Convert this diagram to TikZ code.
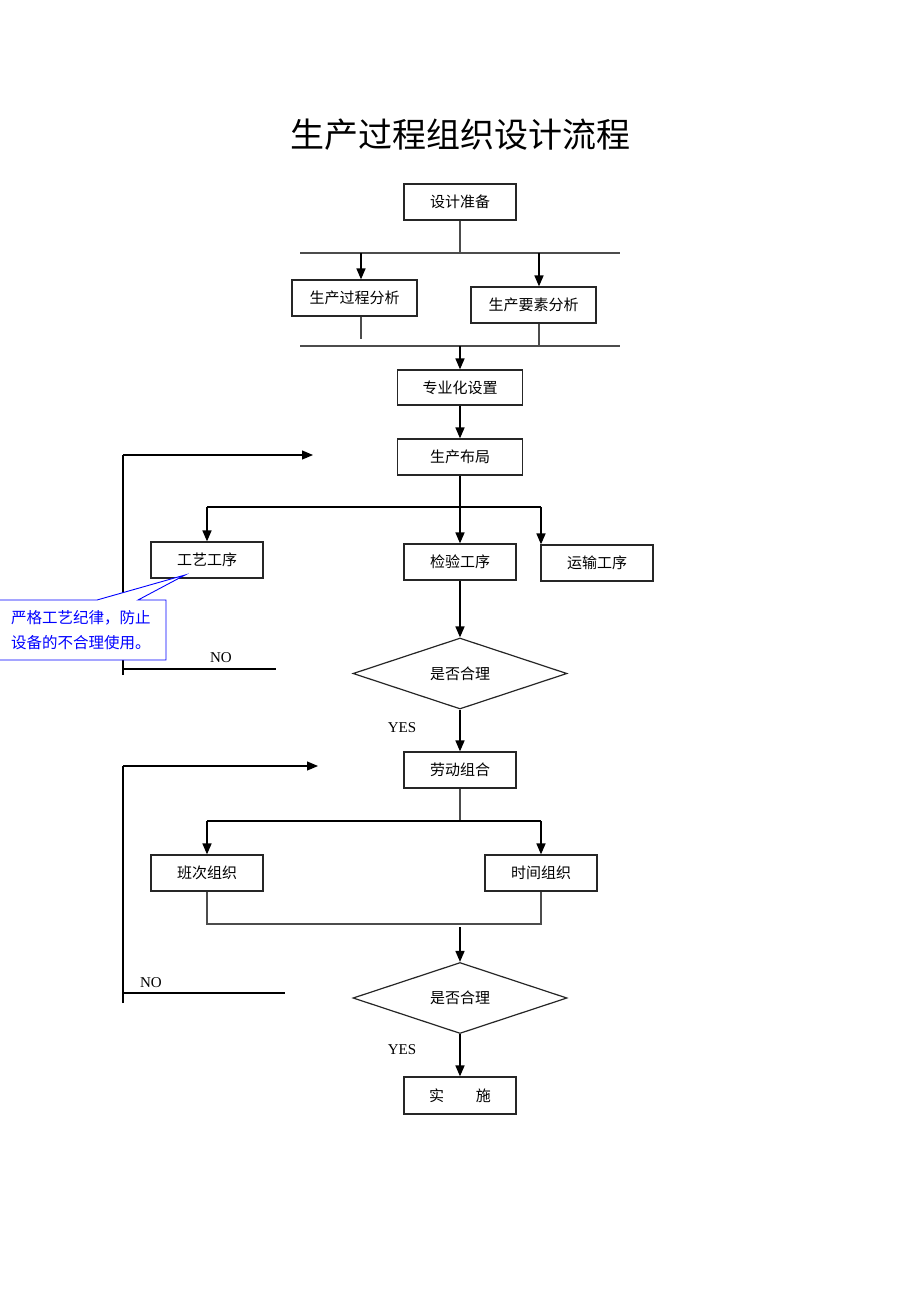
\documentclass[tikz,border=0pt]{standalone}
\usepackage{fontspec}
\setmainfont{Liberation Serif}
\newfontfamily\cjk{Noto Sans CJK SC}
\usetikzlibrary{arrows.meta,shapes.geometric}
\begin{document}
\begin{tikzpicture}[x=1pt,y=-1pt,
  box/.style={draw=black!85, line width=1.2pt, minimum width=112pt, minimum height=36pt, inner sep=0pt, font=\cjk\fontsize{15}{18}\selectfont},
  dia/.style={draw=black!85, line width=1.2pt, diamond, aspect=3, minimum width=214pt, minimum height=71pt, inner sep=0pt, font=\cjk\fontsize{15}{18}\selectfont},
  arr/.style={-{Triangle[length=11pt,width=9pt]}, line width=1.6pt, draw=black},
  ln/.style={line width=1.1pt, draw=black!70},
  lbl/.style={font=\fontsize{15}{18}\selectfont, inner sep=0pt},
]
\useasboundingbox (0,0) rectangle (920,1302);
\fill[white] (0,0) rectangle (920,1302);

% title
\node[font=\cjk\fontsize{34}{36}\selectfont] (title) at (460,135) {生产过程组织设计流程};

% boxes
\node[box] (prep) at (460,202) {设计准备};
\node[box, minimum width=125pt] (proc) at (354.5,298) {生产过程分析};
\node[box, minimum width=125pt] (elem) at (533.5,305) {生产要素分析};
\node[box, minimum width=125pt, minimum height=35pt] (spec) at (460,387.5) {专业化设置};
\node[box, minimum width=125pt] (layout) at (460,457) {生产布局};
\node[box] (craft) at (207,560) {工艺工序};
\node[box] (insp) at (460,562) {检验工序};
\node[box] (trans) at (597,563) {运输工序};
\node[dia] (d1) at (460,673.5) {是否合理};
\node[box] (labor) at (460,770) {劳动组合};
\node[box] (shift) at (207,873) {班次组织};
\node[box] (time) at (541,873) {时间组织};
\node[dia] (d2) at (460,998) {是否合理};
\node[box, minimum height=37pt] (impl) at (460,1095.5) {实\hspace{32pt}施};

% top bars
\coordinate (b1l) at (300,253); \coordinate (b1r) at (620,253);
\coordinate (b2l) at (300,346); \coordinate (b2r) at (620,346);
\draw[ln] (b1l) -- (b1r);
\draw[ln] (b2l) -- (b2r);
\draw[ln] (prep.south) -- (prep.south |- b1l);
\coordinate (p1) at (361,253);
\draw[arr] (p1) -- (p1 |- proc.north);
\coordinate (p2) at (539,253);
\draw[arr] (p2) -- (p2 |- elem.north);
\coordinate (p3) at (361,339);
\draw[ln] (p3 |- proc.south) -- (p3);
\coordinate (p4) at (539,346);
\draw[ln] (p4 |- elem.south) -- (p4);
\draw[arr] (spec.north |- b2l) -- (spec.north);
\draw[arr] (spec.south) -- (layout.north);

% layout branches
\coordinate (brl) at (207,507); \coordinate (brr) at (541,507);
\draw[line width=1.2pt] (brl) -- (brr);
\draw[arr] (layout.south) -- (insp.north);
\draw[arr] (brl) -- (craft.north);
\draw[arr] (brr) -- (brr |- trans.north);
\draw[arr] (insp.south) -- (d1.north);
\draw[arr] (d1.south) -- (labor.north);
\node[lbl] (yes1) at (402,728) {YES};

% loop 1
\coordinate (l1t) at (123,455); \coordinate (l1b) at (123,675);
\coordinate (a1) at (313,455);
\draw[line width=1.1pt] (l1b) -- (l1t);
\draw[arr, line width=1.1pt] (l1t) -- (a1);
\coordinate (n1s) at (123,669); \coordinate (n1e) at (276,669);
\draw[line width=1.1pt] (n1s) -- (n1e);
\node[lbl] (no1) at (221,658) {NO};

% callout
\draw[blue, fill=white, line width=0.9pt] (-5,600) -- (97,600) -- (185,575) -- (138,600) -- (166,600) -- (166,660) -- (-5,660) -- cycle;
\node[blue, font=\cjk\fontsize{15.5}{25}\selectfont, align=left, anchor=west, inner sep=0pt] (note) at (11,630) {严格工艺纪律，防止\\设备的不合理使用。};

% labor branches
\coordinate (c1) at (460,821);
\coordinate (c1l) at (207,821); \coordinate (c1r) at (541,821);
\draw[ln] (labor.south) -- (c1);
\draw[line width=1.2pt] (c1l) -- (c1r);
\draw[arr] (c1l) -- (shift.north);
\draw[arr] (c1r) -- (time.north);
\coordinate (m1l) at (207,924); \coordinate (m1r) at (541,924);
\draw[ln] (shift.south) -- (m1l) -- (m1r) -- (time.south);
\coordinate (m2) at (460,927);
\draw[arr] (m2) -- (d2.north);
\draw[arr] (d2.south) -- (impl.north);
\node[lbl] (yes2) at (402,1050) {YES};

% loop 2
\coordinate (l2t) at (123,766); \coordinate (l2b) at (123,1003);
\coordinate (a2) at (318,766);
\draw[line width=1.1pt] (l2b) -- (l2t);
\draw[arr, line width=1.1pt] (l2t) -- (a2);
\coordinate (n2s) at (123,993); \coordinate (n2e) at (285,993);
\draw[line width=1.1pt] (n2s) -- (n2e);
\node[lbl] (no2) at (151,983) {NO};
\end{tikzpicture}
\end{document}
